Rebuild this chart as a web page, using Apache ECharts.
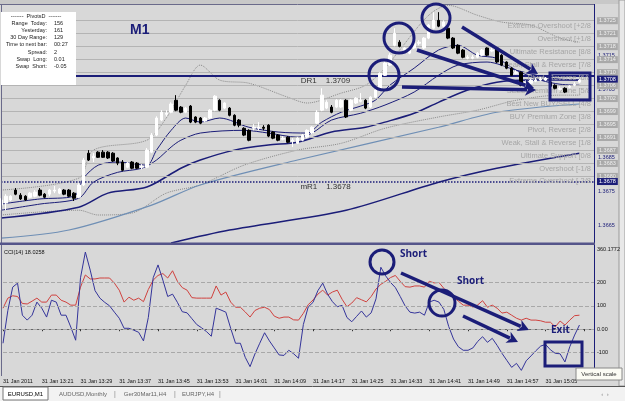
<!DOCTYPE html>
<html>
<head>
<meta charset="utf-8">
<script src="https://cdn.jsdelivr.net/npm/echarts@6/dist/echarts.min.js"></script>
<style>
html,body{margin:0;padding:0;background:#d8d8d8;}
#chart1{width:625px;height:401px;}
</style>
</head>
<body>
<div id="chart1"></div>
<script>
// EURUSD M1, 31 Jan 2011, first bar 13:13
var firstMinute = 13 * 60 + 13;
var futureBars = 3;

var opens = [1.36711,1.36717,1.36726,1.36755,1.36740,1.36737,1.36734,1.36737,1.36755,1.36743,
1.36743,1.36752,1.36746,1.36755,1.36755,1.36746,1.36734,1.36770,1.36863,1.36849,
1.36866,1.36866,1.36866,1.36863,1.36849,1.36837,1.36822,1.36837,1.36834,1.36822,
1.36822,1.36866,1.36916,1.36960,1.36977,1.36983,1.37018,1.36998,1.36983,1.37001,
1.36969,1.36966,1.36957,1.36966,1.36989,1.37018,1.36995,1.36995,1.36974,1.36960,
1.36936,1.36930,1.36936,1.36936,1.36939,1.36945,1.36925,1.36916,1.36904,1.36910,
1.36898,1.36892,1.36901,1.36910,1.36922,1.36951,1.36989,1.36995,1.36998,1.36998,
1.36998,1.37018,1.36989,1.37010,1.37015,1.37018,1.36998,1.37027,1.37048,1.37091,
1.37121,1.37179,1.37188,1.37159,1.37156,1.37171,1.37185,1.37171,1.37200,1.37229,
1.37252,1.37235,1.37229,1.37200,1.37179,1.37165,1.37141,1.37141,1.37144,1.37150,
1.37171,1.37162,1.37171,1.37150,1.37130,1.37112,1.37097,1.37100,1.37068,1.37068,
1.37074,1.37077,1.37077,1.37071,1.37062,1.37050,1.37053,1.37056,1.37062,1.37071];
var closes = [1.36726,1.36737,1.36737,1.36743,1.36729,1.36726,1.36746,1.36749,1.36740,1.36734,
1.36755,1.36755,1.36758,1.36743,1.36737,1.36731,1.36770,1.36843,1.36843,1.36854,
1.36851,1.36851,1.36849,1.36840,1.36834,1.36813,1.36834,1.36819,1.36819,1.36825,
1.36872,1.36916,1.36966,1.36983,1.36980,1.37007,1.36989,1.36983,1.36995,1.36954,
1.36954,1.36951,1.36966,1.36989,1.37030,1.36989,1.37010,1.36974,1.36945,1.36945,
1.36916,1.36901,1.36939,1.36939,1.36936,1.36913,1.36907,1.36901,1.36907,1.36895,
1.36901,1.36907,1.36916,1.36930,1.36939,1.36983,1.37033,1.37012,1.36983,1.37018,
1.37018,1.36969,1.37018,1.37024,1.37018,1.36995,1.37027,1.37048,1.37097,1.37127,
1.37150,1.37214,1.37176,1.37171,1.37171,1.37185,1.37188,1.37200,1.37238,1.37252,
1.37235,1.37247,1.37200,1.37171,1.37156,1.37144,1.37144,1.37144,1.37156,1.37165,
1.37150,1.37165,1.37130,1.37121,1.37112,1.37091,1.37100,1.37062,1.37071,1.37077,
1.37077,1.37080,1.37083,1.37059,1.37053,1.37053,1.37042,1.37059,1.37065,1.37077];
var lows = [1.36696,1.36696,1.36723,1.36740,1.36726,1.36723,1.36731,1.36734,1.36737,1.36731,
1.36737,1.36746,1.36743,1.36740,1.36734,1.36723,1.36731,1.36767,1.36840,1.36837,
1.36849,1.36849,1.36846,1.36837,1.36828,1.36810,1.36819,1.36816,1.36816,1.36816,
1.36819,1.36863,1.36913,1.36957,1.36971,1.36980,1.36986,1.36980,1.36980,1.36951,
1.36951,1.36948,1.36954,1.36963,1.36986,1.36986,1.36992,1.36971,1.36942,1.36939,
1.36913,1.36898,1.36930,1.36930,1.36930,1.36910,1.36904,1.36898,1.36901,1.36892,
1.36881,1.36890,1.36898,1.36907,1.36919,1.36948,1.36986,1.36992,1.36980,1.36995,
1.36995,1.36966,1.36986,1.37007,1.37012,1.36992,1.36995,1.37024,1.37045,1.37089,
1.37118,1.37176,1.37173,1.37156,1.37153,1.37168,1.37179,1.37168,1.37197,1.37226,
1.37232,1.37232,1.37197,1.37168,1.37153,1.37141,1.37138,1.37138,1.37141,1.37147,
1.37147,1.37159,1.37127,1.37118,1.37109,1.37089,1.37094,1.37059,1.37065,1.37065,
1.37071,1.37074,1.37074,1.37056,1.37050,1.37048,1.37039,1.37053,1.37059,1.37068];
var highs = [1.36731,1.36743,1.36740,1.36761,1.36746,1.36740,1.36749,1.36755,1.36761,1.36746,
1.36758,1.36767,1.36761,1.36758,1.36758,1.36749,1.36775,1.36849,1.36872,1.36863,
1.36869,1.36872,1.36869,1.36866,1.36851,1.36843,1.36837,1.36840,1.36837,1.36831,
1.36878,1.36922,1.36971,1.36989,1.36989,1.37012,1.37033,1.37001,1.36998,1.37004,
1.36971,1.36969,1.36969,1.36992,1.37033,1.37021,1.37012,1.36998,1.36977,1.36963,
1.36939,1.36933,1.36948,1.36954,1.36945,1.36948,1.36928,1.36919,1.36913,1.36913,
1.36907,1.36910,1.36919,1.36933,1.36942,1.36989,1.37053,1.37018,1.37004,1.37021,
1.37021,1.37021,1.37021,1.37027,1.37039,1.37021,1.37030,1.37053,1.37100,1.37132,
1.37156,1.37229,1.37194,1.37173,1.37173,1.37188,1.37194,1.37203,1.37241,1.37276,
1.37276,1.37252,1.37232,1.37203,1.37182,1.37168,1.37150,1.37150,1.37159,1.37168,
1.37173,1.37171,1.37173,1.37153,1.37132,1.37115,1.37106,1.37103,1.37077,1.37080,
1.37083,1.37086,1.37086,1.37074,1.37065,1.37059,1.37056,1.37062,1.37071,1.37080];

// overlay averages, read at [bar, price]
var maFast = [[0,1.36714],[8,1.36729],[15,1.36737],[17,1.36790],[20,1.36828],[24,1.36837],[30,1.36828],[32,1.36872],[35,1.36930],[38,1.36966],[41,1.36954],[45,1.36966],[51,1.36939],[57,1.36925],[63,1.36922],[66,1.36954],[70,1.36983],[74,1.37001],[77,1.37018],[80,1.37062],[85,1.37112],[90,1.37165],[94,1.37179],[98,1.37150],[102,1.37141],[106,1.37106],[111,1.37077],[115,1.37065],[119,1.37062]];
var maMid = [[0,1.36696],[8,1.36714],[16,1.36731],[19,1.36778],[24,1.36807],[29,1.36819],[32,1.36843],[35,1.36881],[37,1.36901],[41,1.36922],[50,1.36930],[55,1.36922],[61,1.36910],[64,1.36922],[68,1.36960],[74,1.36980],[79,1.37004],[85,1.37042],[90,1.37091],[94,1.37121],[100,1.37130],[106,1.37106],[113,1.37083],[119,1.37077]];
var maSlow = [[0,1.36673],[16,1.36705],[22,1.36746],[30,1.36764],[37,1.36819],[41,1.36843],[48,1.36872],[55,1.36887],[61,1.36895],[68,1.36925],[75,1.36939],[79,1.36954],[85,1.36980],[90,1.37012],[96,1.37048],[102,1.37071],[109,1.37077],[115,1.37077],[119,1.37077]];
var maLong = [[0,1.36614],[14,1.36638],[31,1.36711],[41,1.36770],[61,1.36843],[90,1.36939],[102,1.36983],[119,1.37007]];
var maVeryLong = [[35,1.36600],[47,1.36638],[71,1.36696],[90,1.36778],[102,1.36819],[119,1.36863]];
var bandUpper = [[0,1.36755],[16,1.36790],[19,1.36872],[30,1.36901],[34,1.36966],[38,1.37062],[41,1.37121],[45,1.37077],[51,1.37068],[59,1.37027],[63,1.37010],[70,1.37039],[75,1.37062],[79,1.37112],[82,1.37165],[88,1.37267],[92,1.37296],[98,1.37267],[103,1.37247],[109,1.37238],[115,1.37200],[119,1.37188]];
var bandLower = [[0,1.36682],[16,1.36696],[20,1.36682],[27,1.36688],[34,1.36746],[41,1.36770],[50,1.36828],[61,1.36872],[70,1.36892],[79,1.36936],[90,1.36969],[98,1.36989],[106,1.37018],[115,1.37033],[119,1.37033]];

// CCI(14)
var cciMain = [-60,80,180,197,60,39,60,116,90,52,124,116,60,60,9,-47,220,330,253,165,
133,115,100,73,47,4,4,-4,-13,-50,50,220,275,210,140,150,115,75,70,45,
20,6,-10,-30,90,82,73,4,-60,-60,-120,-160,-106,-60,-15,-50,-80,-110,-112,-90,
-105,-124,20,95,115,165,197,150,118,96,102,50,32,55,78,52,70,130,265,228,
200,178,140,100,73,69,73,60,116,124,116,85,12,-42,-75,-90,-90,-80,-52,-32,
-56,-39,-69,-103,-133,-163,-146,-176,-135,-114,-92,-72,-65,-88,-103,-105,-140,-75,-25,18];
var cciSignal = [90,133,143,140,110,108,120,133,116,116,146,146,124,116,103,103,180,232,215,215,
219,219,219,197,167,116,137,124,133,118,170,210,230,238,219,250,205,178,167,135,
133,133,133,133,185,146,159,116,94,94,74,52,80,90,94,84,56,47,52,52,
40,39,68,105,125,150,167,146,159,167,128,96,112,135,126,117,140,172,192,205,
221,230,205,182,180,185,185,180,205,198,200,175,148,138,120,103,103,95,104,122,
94,103,90,69,73,60,47,39,47,39,39,36,30,30,10,35,18,39,58,60];

var tickLabels = ['31 Jan 2011','31 Jan 13:21','31 Jan 13:29','31 Jan 13:37','31 Jan 13:45','31 Jan 13:53','31 Jan 14:01','31 Jan 14:09','31 Jan 14:17','31 Jan 14:25','31 Jan 14:33','31 Jan 14:41','31 Jan 14:49','31 Jan 14:57','31 Jan 15:05'];

var murreyLevels = [1.37251,1.37213,1.37175,1.37137,1.37099,1.37061,1.37023,1.36985,1.36947,1.36909,1.36871,1.36833,1.36795];
var murreyPrices = ['1.3725','1.3721','1.3718','1.3714','1.3710','1.3706','1.3702','1.3699','1.3695','1.3691','1.3687','1.3683','1.3680'];
var murreyNames = ['Extreme Overshoot [+2/8','Overshoot [+1/8','Ultimate Resistance [8/8','Weak, Stall & Reverse [7/8','Pivot, Reverse [6/8','SELL Premium Zone [5/8','Best New BUY/SELL [4/8','BUY Premium Zone [3/8','Pivot, Reverse [2/8','Weak, Stall & Reverse [1/8','Ultimate Support [0/8','Overshoot [-1/8','Extreme Overshoot [-2/8'];
var axisTicks = [1.3665,1.3675,1.3685,1.3705,1.3715];
var pivotDR1 = 1.3709, pivotMR1 = 1.3678, bidPrice = 1.3708;
var cciLevels = [200,100,0,-100];
var cciMax = 360.1772;

var infoRows = [['Range  Today:','156'],['Yesterday:','161'],['30 Day Range:','129'],['Time to next bar:','00:27'],['Spread:','2'],['Swap  Long:','0.01'],['Swap  Short:','-0.05']];

var NAVY = '#1b1d78';
var BG = '#d8d8d8';
var CLEAR = 'rgba(0,0,0,0)';

var categories = [];
for (var i = 0; i < opens.length + futureBars; i++) {
    var m = firstMinute + i;
    categories.push(Math.floor(m / 60) + ':' + ('0' + (m % 60)).slice(-2));
}
var candleData = [];
for (var i = 0; i < opens.length; i++) {
    candleData.push([opens[i], closes[i], lows[i], highs[i]]);
}

var myChart = echarts.init(document.getElementById('chart1'));

var murreyLines = [], murreyTags = [];
for (var k = 0; k < murreyLevels.length; k++) {
    murreyLines.push({ yAxis: murreyLevels[k], label: { formatter: murreyNames[k] } });
    murreyTags.push({ yAxis: murreyLevels[k], label: { formatter: murreyPrices[k] } });
}
var tickLines = axisTicks.map(function (v) { return { yAxis: v, label: { formatter: v.toFixed(4) } }; });

function arrow(x1, y1, x2, y2) {
    var dx = x2 - x1, dy = y2 - y1, len = Math.sqrt(dx * dx + dy * dy);
    var ux = dx / len, uy = dy / len, hl = 11, hw = 6;
    var bx = x2 - ux * hl, by = y2 - uy * hl;
    return [
        { type: 'line', shape: { x1: x1, y1: y1, x2: bx + ux * 2, y2: by + uy * 2 }, style: { stroke: NAVY, lineWidth: 3.5 }, z: 100 },
        { type: 'polygon', shape: { points: [[x2, y2], [bx - uy * hw, by + ux * hw], [bx + ux * 3, by + uy * 3], [bx + uy * hw, by - ux * hw]] }, style: { fill: NAVY }, z: 100 }
    ];
}
function ring(cx, cy, r) {
    return { type: 'circle', shape: { cx: cx, cy: cy, r: r }, style: { fill: null, stroke: NAVY, lineWidth: 3 }, z: 100 };
}
function box(x, y, w, h) {
    return { type: 'rect', shape: { x: x, y: y, width: w, height: h }, style: { fill: null, stroke: NAVY, lineWidth: 3 }, z: 100 };
}
function txt(t, x, y, font, color, align, z) {
    return { type: 'text', style: { text: t, x: x, y: y, font: font, fill: color, textAlign: align || 'left', textVerticalAlign: 'middle' }, z: z || 101 };
}

var graphics = [
    // frame
    { type: 'rect', shape: { x: 0, y: 0, width: 625, height: 4 }, style: { fill: '#c8c8c8' }, z: 90 },
    { type: 'line', shape: { x1: 0, y1: 4.5, x2: 595, y2: 4.5 }, style: { stroke: '#6a6a8a', lineWidth: 1 }, z: 90 },
    { type: 'line', shape: { x1: 1.5, y1: 4, x2: 1.5, y2: 376 }, style: { stroke: '#6a6a8a', lineWidth: 1 }, z: 90 },
    { type: 'line', shape: { x1: 594.5, y1: 4, x2: 594.5, y2: 376 }, style: { stroke: NAVY, lineWidth: 1 }, z: 90 },
    { type: 'rect', shape: { x: 0, y: 242.5, width: 595, height: 2.5 }, style: { fill: '#55558a' }, z: 90 },
    { type: 'rect', shape: { x: 619, y: 0, width: 6, height: 386 }, style: { fill: '#e8e8e8', stroke: '#9a9a9a', lineWidth: 1 }, z: 90 },
    // tab bar
    { type: 'rect', shape: { x: 0, y: 386, width: 625, height: 15 }, style: { fill: '#f2f2f2' }, z: 90 },
    { type: 'line', shape: { x1: 0, y1: 386.5, x2: 625, y2: 386.5 }, style: { stroke: '#555', lineWidth: 1 }, z: 91 },
    { type: 'rect', shape: { x: 3, y: 387, width: 45, height: 13 }, style: { fill: '#ffffff', stroke: '#777', lineWidth: 1 }, z: 91 },
    txt('EURUSD,M1', 25.5, 394, '6px "Liberation Sans"', '#000', 'center'),
    txt('AUDUSD,Monthly', 83, 394, '6px "Liberation Sans"', '#666', 'center'),
    txt('|', 115, 394, '7px "Liberation Sans"', '#888', 'center'),
    txt('Ger30Mar11,H4', 145, 394, '6px "Liberation Sans"', '#666', 'center'),
    txt('|', 175, 394, '7px "Liberation Sans"', '#888', 'center'),
    txt('EURJPY,H4', 198, 394, '6px "Liberation Sans"', '#666', 'center'),
    txt('|', 220, 394, '7px "Liberation Sans"', '#888', 'center'),
    txt('\u2039  \u203a', 605, 394, '6px "Liberation Sans"', '#888', 'center'),
    // info panel
    { type: 'rect', shape: { x: 1, y: 12, width: 75, height: 73 }, style: { fill: '#ffffff' }, z: 95 },
    txt('-------  PivotsD  -------', 36, 16, '5.5px "Liberation Sans"', '#222', 'center'),
    txt('M1', 130, 30, 'bold 14px "Liberation Sans"', NAVY, 'left'),
    txt('CCI(14) 18.0258', 4, 252, '5.5px "Liberation Sans"', '#111', 'left'),
    txt(String(cciMax), 597, 249, '5.5px "Liberation Sans"', '#111', 'left'),
    // annotations in price panel
    ring(399, 38, 15), ring(436, 18, 14), ring(384, 75, 15),
    box(550, 73, 40, 27),
    // annotations in CCI panel
    ring(382, 262, 12), ring(442, 303, 13),
    box(545, 342, 37, 24),
    txt('Short', 400, 254, 'bold 10px "Open Sans"', NAVY, 'left'),
    txt('Short', 457, 281, 'bold 10px "Open Sans"', NAVY, 'left'),
    txt('Exit', 551, 330, 'bold 10px "Open Sans"', NAVY, 'left'),
    { type: 'rect', shape: { x: 576, y: 368, width: 46, height: 12 }, style: { fill: '#fbfbf4', stroke: '#888', lineWidth: 1 }, z: 102 },
    txt('Vertical scale', 599, 374, '6px "Liberation Sans"', '#333', 'center', 105)
];
for (var r = 0; r < infoRows.length; r++) {
    graphics.push(txt(infoRows[r][0], 47, 23 + r * 7.3, '5.5px "Liberation Sans"', '#222', 'right'));
    graphics.push(txt(infoRows[r][1], 54, 23 + r * 7.3, '5.5px "Liberation Sans"', '#222', 'left'));
}
graphics = graphics.concat(arrow(462, 27, 538, 74), arrow(417, 50, 534, 88), arrow(402, 87, 536, 90),
    arrow(401, 273, 529, 330), arrow(463, 316, 518, 342));

function overlay(name, data, color, width, type) {
    return {
        name: name, type: 'line', xAxisIndex: 0, yAxisIndex: 0, data: data, showSymbol: false, smooth: 0.3,
        lineStyle: { color: color, width: width, type: type || 'solid' }, z: 3, silent: true
    };
}
// invisible carrier series so that horizontal price levels use the price axis
function levelSeries(name, z, markLine) {
    markLine.symbol = 'none';
    markLine.silent = true;
    markLine.animation = false;
    markLine.precision = 6;
    return { name: name, type: 'line', xAxisIndex: 0, yAxisIndex: 0, data: closes, showSymbol: false, silent: true,
        clip: false, lineStyle: { color: CLEAR, width: 0 }, z: z, markLine: markLine };
}

myChart.setOption({
    animation: false,
    backgroundColor: BG,
    grid: [
        { left: 1, top: 5, width: 593, height: 238 },
        { left: 1, top: 245, width: 593, height: 131 }
    ],
    xAxis: [
        { type: 'category', gridIndex: 0, data: categories, boundaryGap: false,
          axisLine: { show: false }, axisTick: { show: false }, axisLabel: { show: false } },
        { type: 'category', gridIndex: 1, data: categories, boundaryGap: false,
          axisLine: { show: true, lineStyle: { color: '#666', width: 1 } },
          axisTick: { show: true, interval: 7, length: 2, lineStyle: { color: '#333' } },
          axisLabel: { interval: 7, align: 'left', margin: 2, fontSize: 5.5, color: '#111', fontFamily: 'Liberation Sans',
              formatter: function (v, idx) { return tickLabels[idx / 8] || ''; } } }
    ],
    yAxis: [
        { type: 'value', gridIndex: 0, position: 'right', min: 1.3660, max: 1.37297,
          axisLine: { show: false }, axisTick: { show: false }, axisLabel: { show: false }, splitLine: { show: false } },
        { type: 'value', gridIndex: 1, position: 'right', min: -200, max: cciMax,
          axisLine: { show: false }, axisTick: { show: false }, axisLabel: { show: false }, splitLine: { show: false } }
    ],
    graphic: graphics,
    series: [
        levelSeries('murrey', 1, {
            lineStyle: { color: '#b4b4b4', width: 1, type: 'solid' },
            label: { position: 'insideEndBottom', distance: [3, 1], color: '#a6a6a6', fontSize: 7.5, fontFamily: 'Liberation Sans' },
            data: murreyLines }),
        levelSeries('ticks', 2, {
            lineStyle: { color: CLEAR, width: 0 },
            label: { position: 'end', distance: 4, color: NAVY, fontSize: 5.5, fontFamily: 'Liberation Sans' },
            data: tickLines }),
        levelSeries('murreyTags', 3, {
            lineStyle: { color: CLEAR, width: 0 },
            label: { position: 'end', distance: 3, color: '#eeeeee', backgroundColor: '#a9a9a9', padding: [1, 2, 0, 2], fontSize: 5.5, fontFamily: 'Liberation Sans' },
            data: murreyTags }),
        levelSeries('pivots', 4, {
            data: [
                { yAxis: pivotDR1, lineStyle: { color: NAVY, width: 2, type: 'solid' },
                  label: { position: 'insideMiddleBottom', formatter: 'DR1    ' + pivotDR1.toFixed(4), color: '#333', fontSize: 8, padding: [0, 0, 0, 56], distance: 1 } },
                { yAxis: pivotMR1, lineStyle: { color: NAVY, width: 1.5, type: 'dotted' },
                  label: { position: 'insideMiddleBottom', formatter: 'mR1    ' + pivotMR1.toFixed(4), color: '#333', fontSize: 8, padding: [0, 0, 0, 56], distance: 1 } }
            ] }),
        levelSeries('bidTags', 5, {
            lineStyle: { color: CLEAR, width: 0 },
            label: { position: 'end', distance: 3, color: '#ffffff', backgroundColor: NAVY, padding: [1, 2, 0, 2], fontSize: 5.5, fontFamily: 'Liberation Sans' },
            data: [{ yAxis: bidPrice, label: { formatter: bidPrice.toFixed(4) } }, { yAxis: pivotMR1, label: { formatter: pivotMR1.toFixed(4) } }] }),
        overlay('bandUpper', bandUpper, '#8a8a8a', 1, 'dotted'),
        overlay('bandLower', bandLower, '#8a8a8a', 1, 'dotted'),
        overlay('maVeryLong', maVeryLong, NAVY, 1.5),
        overlay('maLong', maLong, '#6f8fb5', 1.2),
        overlay('maSlow', maSlow, NAVY, 1.5),
        overlay('maMid', maMid, NAVY, 1),
        overlay('maFast', maFast, NAVY, 1),
        {
            name: 'EURUSD', type: 'candlestick', xAxisIndex: 0, yAxisIndex: 0, data: candleData, barWidth: 3, z: 6,
            itemStyle: { color: '#ffffff', color0: '#000000', borderColor: '#ffffff', borderColor0: '#000000', borderWidth: 1 }
        },
        {
            name: 'CCI signal', type: 'line', xAxisIndex: 1, yAxisIndex: 1, data: cciSignal, showSymbol: false,
            lineStyle: { color: '#d0423f', width: 1 }, z: 3
        },
        {
            name: 'CCI', type: 'line', xAxisIndex: 1, yAxisIndex: 1, data: cciMain, showSymbol: false,
            lineStyle: { color: '#34349a', width: 1 }, z: 4,
            markLine: { symbol: 'none', silent: true, animation: false,
                lineStyle: { color: '#a8a8a8', width: 1, type: 'dashed' },
                label: { position: 'end', distance: 3, color: '#111', fontSize: 5.5, fontFamily: 'Liberation Sans' },
                data: cciLevels.map(function (v) { return { yAxis: v, label: { formatter: v === 0 ? '0.00' : String(v) } }; }) }
        }
    ]
});
</script>
</body>
</html>
